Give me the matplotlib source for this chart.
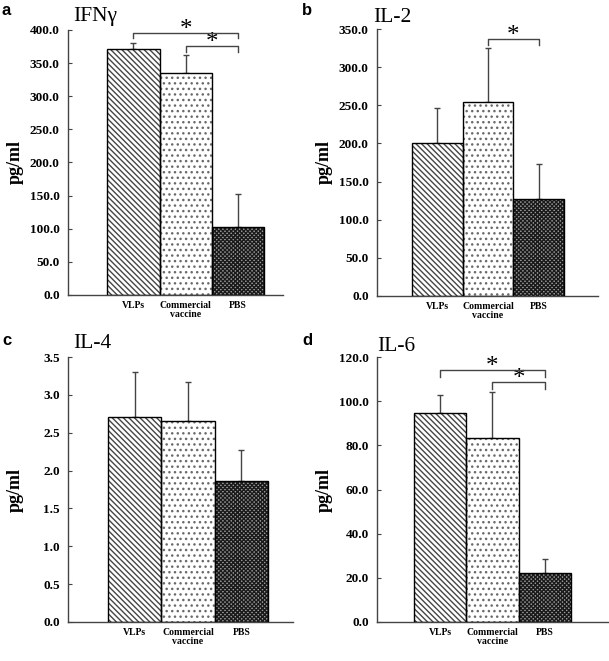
import matplotlib
matplotlib.use('Agg')
import matplotlib.pyplot as plt
import numpy as np

plt.rcParams['hatch.linewidth'] = 1.0

# Gruppen und Messwerte (Mittelwert, obere Standardabweichung)
groups = ['VLPs', 'Commercial\nvaccine', 'PBS']

ifng_mean = [372, 335, 102]
ifng_sd = [8, 27, 50]
il2_mean = [200, 254, 127]
il2_sd = [46, 71, 46]
il4_mean = [2.71, 2.66, 1.86]
il4_sd = [0.59, 0.51, 0.41]
il6_mean = [94.8, 83.2, 22.0]
il6_sd = [8.0, 21.1, 6.7]

ifng_ticks = [0, 50, 100, 150, 200, 250, 300, 350, 400]
il2_ticks = [0, 50, 100, 150, 200, 250, 300, 350]
il4_ticks = [0, 0.5, 1.0, 1.5, 2.0, 2.5, 3.0, 3.5]
il6_ticks = [0, 20, 40, 60, 80, 100, 120]

# Signifikanz-Klammern: (von, bis)
ifng_sig = [(0, 2), (1, 2)]
il2_sig = [(1, 2)]
il6_sig = [(0, 2), (1, 2)]

W, H = 609, 661
fig = plt.figure(figsize=(W / 100, H / 100), dpi=100)

serif = 'Liberation Serif'
sans = 'Liberation Sans'
axcol = '#444444'

hatches = ['\\\\\\\\\\\\', '...', 'xxxxxxxx']
hatch_col = ['#454545', '#6a6a6a', '#1a1a1a']
face_col = ['white', 'white', '#9a9a9a']


def px_axes(l, t, r, b):
    return fig.add_axes([l / W, 1 - b / H, (r - l) / W, (b - t) / H])


def draw_panel(box, xlim, mean, sd, ticks, title, title_xy, letter, letter_xy,
               ylab_x, sig, sig_y):
    ax = px_axes(*box)
    x = np.arange(len(groups))
    for i in range(len(groups)):
        ax.bar(x[i], mean[i], width=1.0, color=face_col[i], hatch=hatches[i],
               edgecolor=hatch_col[i], linewidth=0, zorder=2)
    ax.bar(x, mean, width=1.0, color='none', edgecolor='black', linewidth=1.0, zorder=3)
    ax.errorbar(x, mean, yerr=[np.zeros(len(sd)), sd], fmt='none', ecolor=axcol,
                elinewidth=1.0, capsize=2, capthick=1.0, zorder=1)
    ax.set_xlim(*xlim)
    ax.set_ylim(ticks[0], ticks[-1])
    ax.set_yticks(ticks)
    ax.set_yticklabels(['%.1f' % t for t in ticks], fontfamily=serif,
                       fontweight='bold', fontsize=9.5)
    ax.set_xticks(x)
    ax.set_xticklabels(groups, fontfamily=serif, fontweight='bold', fontsize=7,
                       linespacing=1.1)
    ax.tick_params(axis='y', direction='in', length=3, width=0.8, color=axcol, pad=6)
    ax.tick_params(axis='x', length=0, pad=4)
    for s in ['top', 'right']:
        ax.spines[s].set_visible(False)
    for s in ['left', 'bottom']:
        ax.spines[s].set_color(axcol)
        ax.spines[s].set_linewidth(1.0)

    # Klammern mit Sternchen
    for (a, b), (yl, yt) in zip(sig, sig_y):
        ax.plot([a, a, b, b], [yt, yl, yl, yt], color=axcol, lw=1.0,
                clip_on=False, zorder=4)
        ax.annotate('*', xy=((a + b) / 2, yl), xytext=(0, -2),
                    textcoords='offset points', ha='center', va='baseline',
                    fontfamily=serif, fontsize=18, annotation_clip=False)

    yc = (box[1] + box[3]) / 2
    fig.text(ylab_x / W, 1 - yc / H, 'pg/ml', rotation=90, ha='center', va='center',
             fontfamily=serif, fontweight='bold', fontsize=13)
    fig.text(title_xy[0] / W, 1 - title_xy[1] / H, title, fontfamily=serif,
             fontsize=15.5, va='baseline', ha='left')
    fig.text(letter_xy[0] / W, 1 - letter_xy[1] / H, letter, fontfamily=sans,
             fontweight='bold', fontsize=12, va='baseline', ha='left')
    return ax


draw_panel((68, 30, 283, 295), (-1.25, 2.86), ifng_mean, ifng_sd, ifng_ticks,
           'IFNγ', (73, 21), 'a', (2, 15), 15, ifng_sig, [(395, 388), (376, 367)])
draw_panel((377, 29, 598, 296), (-1.19, 3.17), il2_mean, il2_sd, il2_ticks,
           'IL-2', (373, 22), 'b', (302, 15), 324, il2_sig, [(337, 329)])
draw_panel((68, 357, 293, 622), (-1.25, 2.97), il4_mean, il4_sd, il4_ticks,
           'IL-4', (73, 348), 'c', (2, 345), 15, [], [])
draw_panel((377, 357, 609, 622), (-1.21, 3.23), il6_mean, il6_sd, il6_ticks,
           'IL-6', (377, 351), 'd', (302, 345), 324, il6_sig,
           [(114.1, 111.1), (108.5, 105.4)])

fig.savefig('out.png', dpi=100)
